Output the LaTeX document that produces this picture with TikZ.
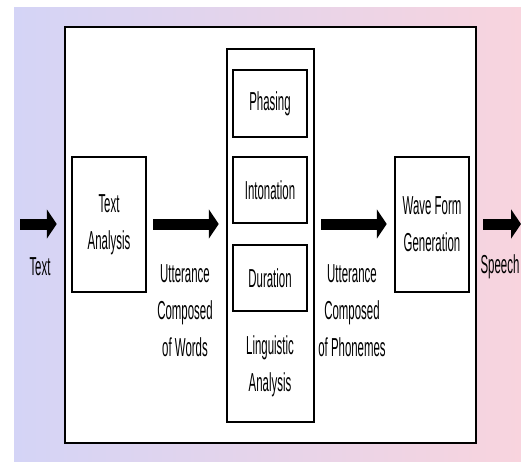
\documentclass[tikz,border=0pt]{standalone}
\usepackage{fontspec}
\usepackage{tikz}
\usetikzlibrary{arrows.meta}
\newfontfamily\narrowfont[FakeStretch=0.44]{Liberation Sans}
\definecolor{bgleft}{RGB}{212,212,246}
\definecolor{bgright}{RGB}{248,212,222}

\begin{document}
\begin{tikzpicture}[x=1pt, y=-1pt,
    box/.style={draw=black, line width=2.5pt, fill=white, inner sep=0pt, align=center},
    label/.style={inner sep=0pt, align=center},
    flow/.style={line width=11pt, -{Triangle[length=10pt, width=29pt]}},
    every node/.style={font=\narrowfont\fontsize{26}{37}\selectfont}]
  \useasboundingbox (0,0) rectangle (521,461);
  \fill[left color=bgleft, right color=bgright] (14,7) rectangle (521,461);
  \node[box, minimum width=411pt, minimum height=416pt] (sys) at (270.5,235) {};
  \node[box, minimum width=74pt, minimum height=135pt] (ta) at (109,224.5) {Text\\Analysis};
  \node[box, minimum width=87pt, minimum height=373pt] (ling) at (270.5,235.5) {};
  \node[box, minimum width=74pt, minimum height=67pt] (phas) at (270,103.5) {Phasing};
  \node[box, minimum width=74pt, minimum height=66pt] (inton) at (270,190) {Intonation};
  \node[box, minimum width=74pt, minimum height=66pt] (dur) at (270,278) {Duration};
  \node[label] (lingtxt) at (270,366) {Linguistic\\Analysis};
  \node[box, minimum width=74pt, minimum height=135pt] (wf) at (432,224.5) {Wave Form\\Generation};
  \coordinate (in) at (20,224);
  \coordinate (out) at (521,224);
  \draw[flow, shorten >=7pt] (in) -- (sys.west |- in);
  \draw[flow, shorten <=6pt, shorten >=7pt] (ta.east |- in) -- (ling.west |- in);
  \draw[flow, shorten <=6pt, shorten >=7pt] (ling.east |- in) -- (wf.west |- in);
  \draw[flow, shorten <=6pt] (sys.east |- in) -- (out);
  \node[label] (intxt) at (40,267) {Text};
  \node[label] (outtxt) at (500,267) {Speech};
  \node[label] (words) at (185,311) {Utterance\\Composed\\of Words};
  \node[label] (phon) at (352,311) {Utterance\\Composed\\of Phonemes};
\end{tikzpicture}
\end{document}
